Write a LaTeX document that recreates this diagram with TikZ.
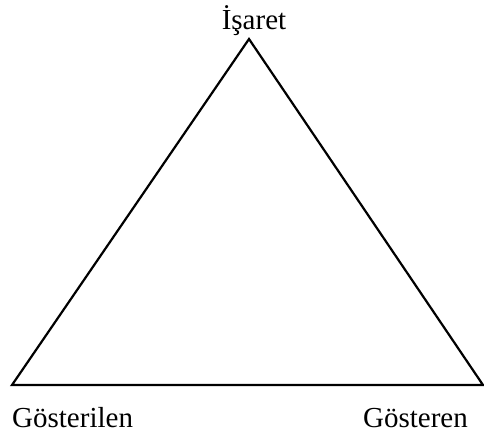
\documentclass[tikz,border=0pt]{standalone}
\usepackage{fontspec}
\setmainfont{Liberation Serif}
\usetikzlibrary{positioning}

\begin{document}
\begin{tikzpicture}[
    x=1pt, y=-1pt,
    label/.style={font=\fontsize{29}{33}\selectfont, inner sep=0pt},
    side/.style={line width=2.2pt, line join=miter}
]
\useasboundingbox (0,0) rectangle (484,434);

% Corners
\coordinate (top) at (249,39);
\coordinate (left) at (12,385);
\coordinate (right) at (483,385);

% Triangle
\draw[side] (top) -- (left) -- (right) -- cycle;

% Labels
\node[label, anchor=base] (isaret) at (254,29) {İşaret};
\node[label, anchor=base west] (gosterilen) at (12,427) {Gösterilen};
\node[label, anchor=base east] (gosteren) at (468,427) {Gösteren};

\end{tikzpicture}
\end{document}
